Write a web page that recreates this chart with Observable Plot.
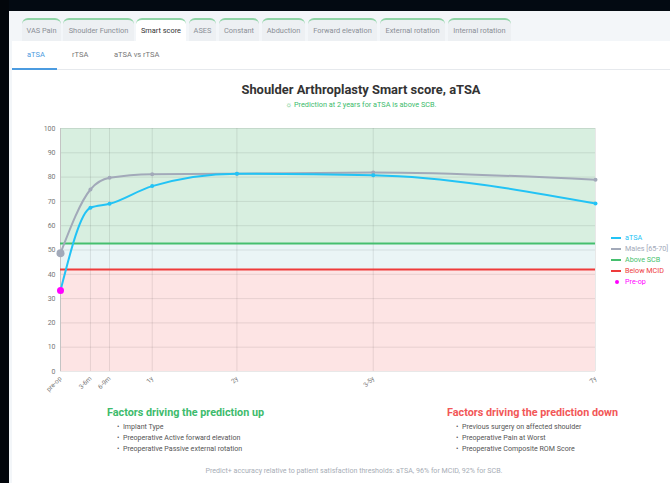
<!DOCTYPE html>
<html><head><meta charset="utf-8">
<script src="https://cdn.jsdelivr.net/npm/d3@7"></script>
<script src="https://cdn.jsdelivr.net/npm/@observablehq/plot@0.6"></script>
<style>
html,body{margin:0;padding:0;width:670px;height:483px;overflow:hidden;background:#fff;font-family:Roboto,"Noto Sans",sans-serif;}
.abs{position:absolute;white-space:nowrap;}
#topband{left:0;top:0;width:670px;height:11px;background:#030a12;}
#leftband{left:0;top:0;width:9px;height:483px;background:#02060b;}
#tabbar{left:9px;top:11px;width:661px;height:30px;background:#f3f6f9;}
#strip{left:9px;top:41px;width:3px;height:442px;background:#f3f6f9;}
.tab{position:absolute;top:18px;height:23px;background:#edf0f3;border-top:2px solid #8fd4a6;border-radius:6px 6px 0 0;box-sizing:border-box;font-size:7.4px;color:#8a8f96;line-height:21px;text-align:center;}
.tab.active{background:#fff;color:#333;}
.sub{position:absolute;top:50px;font-size:7.5px;color:#777;}
#subline{left:12px;top:69px;width:658px;height:1px;background:#e6e9ed;}
#subact{left:12px;top:68px;width:45px;height:2px;background:#4b9be0;}
#title{left:0;width:722px;top:82px;text-align:center;font-weight:bold;font-size:12.9px;color:#333;}
#subtitle{left:0;width:722px;top:100px;text-align:center;font-size:7.3px;color:#3dbb6c;}
#chart{position:absolute;left:0;top:110px;}
.leg{position:absolute;font-size:7.2px;}
.legsym{position:absolute;width:10px;height:2px;}
.fh{position:absolute;font-weight:bold;font-size:10.8px;}
.fl{position:absolute;font-size:7.1px;color:#555;}
#caption{left:0;width:708px;top:466px;text-align:center;font-size:7.1px;color:#a7adb6;}
</style></head>
<body>
<div class="abs" id="topband"></div>
<div class="abs" id="leftband"></div>
<div class="abs" id="tabbar"></div>
<div class="abs" id="strip"></div>
<div id="tabs"></div>
<div id="subs"></div>
<div class="abs" id="subline"></div>
<div class="abs" id="subact"></div>
<div class="abs" id="title"></div>
<div class="abs" id="subtitle"></div>
<div id="chart"></div>
<div id="legend"></div>
<div id="factors"></div>
<div class="abs" id="caption"></div>
<script>
// ---- data ----
const tabNames = ["VAS Pain","Shoulder Function","Smart score","ASES","Constant","Abduction","Forward elevation","External rotation","Internal rotation"];
const subTabNames = ["aTSA","rTSA","aTSA vs rTSA"];
const timeLabels = ["pre-op","3-6m","6-9m","1y","2y","3-5y","7y"];
const timePos = [0, 4.7, 7.7, 14.4, 27.7, 49.1, 84];
const aTSA = [33.3, 67.4, 69.0, 76.3, 81.4, 80.8, 69.1];
const males = [48.7, 74.9, 79.7, 81.2, 81.4, 81.9, 78.9];
const scbValue = 52.7;
const mcidValue = 42;
const yTicks = [0,10,20,30,40,50,60,70,80,90,100];
const legendNames = ["aTSA","Males [65-70]","Above SCB","Below MCID","Pre-op"];
const factorsUp = ["Implant Type","Preoperative Active forward elevation","Preoperative Passive external rotation"];
const factorsDown = ["Previous surgery on affected shoulder","Preoperative Pain at Worst","Preoperative Composite ROM Score"];
const titleText = "Shoulder Arthroplasty Smart score, aTSA";
const subtitleText = "☼ Prediction at 2 years for aTSA is above SCB.";
const captionText = "Predict+ accuracy relative to patient satisfaction thresholds: aTSA, 96% for MCID, 92% for SCB.";

// ---- styles ----
const C = {atsa:"#22c3f5", males:"#a2a9b9", scb:"#45bf6e", mcid:"#ee3b3b", preop:"#ff00ff"};

// tabs
const tabX = [[22,61],[63,134],[136,186],[189,216],[219,259],[262,305],[308,377],[380,445],[448,511]];
document.getElementById("tabs").innerHTML = tabNames.map((t,i)=>
  `<div class="tab${i===2?' active':''}" style="left:${tabX[i][0]}px;width:${tabX[i][1]-tabX[i][0]}px">${t}</div>`).join("");
const subX = [27,72,114];
document.getElementById("subs").innerHTML = subTabNames.map((t,i)=>
  `<div class="sub" style="left:${subX[i]}px;${i===0?'color:#4b9be0':''}">${t}</div>`).join("");
document.getElementById("title").textContent = titleText;
document.getElementById("subtitle").textContent = subtitleText;
document.getElementById("caption").textContent = captionText;

// chart
const series = (vals, name) => timePos.map((x,i)=>({x, y: vals[i], name}));
const aData = series(aTSA, "aTSA");
const mData = series(males, "Males");
const x0 = timePos[0], x1 = timePos[timePos.length-1];
const bands = [
  {y1: scbValue, y2: 100, fill: "#d8efe0"},
  {y1: mcidValue, y2: scbValue, fill: "#eaf5f6"},
  {y1: 0, y2: mcidValue, fill: "#fde4e4"}
];
const chart = Plot.plot({
  width: 670, height: 300,
  marginLeft: 60, marginRight: 75, marginTop: 18, marginBottom: 39,
  style: {background: "transparent", fontFamily: "Roboto, sans-serif"},
  x: {type: "linear", domain: [x0, x1], label: null},
  y: {domain: [0, 100], label: null},
  marks: [
    Plot.rect(bands, {x1: () => x0, x2: () => x1, y1: "y1", y2: "y2", fill: "fill"}),
    Plot.gridY(yTicks, {stroke: "#000", strokeOpacity: 0.09}),
    Plot.gridX(timePos, {stroke: "#000", strokeOpacity: 0.09}),
    Plot.ruleX([x0], {stroke: "#c4c4c4"}),
    Plot.axisY(yTicks, {tickSize: 0, tickPadding: 5, fontSize: 7, fill: "#777", label: null}),
    Plot.axisX(timePos, {tickSize: 0, tickPadding: 6, fontSize: 6.5, fill: "#777", tickRotate: -45, label: null,
      tickFormat: d => timeLabels[timePos.indexOf(d)]}),
    Plot.ruleY([scbValue], {x1: x0, x2: x1, stroke: C.scb, strokeWidth: 2}),
    Plot.ruleY([mcidValue], {x1: x0, x2: x1, stroke: C.mcid, strokeWidth: 2}),
    Plot.line(mData, {x: "x", y: "y", stroke: C.males, strokeWidth: 2, curve: "monotone-x"}),
    Plot.dot(mData.slice(1), {x: "x", y: "y", r: 2, fill: C.males}),
    Plot.dot(mData.slice(0,1), {x: "x", y: "y", r: 4, fill: C.males}),
    Plot.line(aData, {x: "x", y: "y", stroke: C.atsa, strokeWidth: 2, curve: "monotone-x"}),
    Plot.dot(aData.slice(1), {x: "x", y: "y", r: 2, fill: C.atsa}),
    Plot.dot(aData.slice(0,1), {x: "x", y: "y", r: 3.5, fill: C.preop})
  ]
});
document.getElementById("chart").appendChild(chart);

// legend
const legColors = [C.atsa, C.males, C.scb, C.mcid, C.preop];
document.getElementById("legend").innerHTML = legendNames.map((n,i)=>{
  const top = 233 + i*11;
  const sym = i===4
    ? `<div class="legsym" style="left:615px;top:${top+3}px;width:4px;height:4px;border-radius:2px;background:${legColors[i]}"></div>`
    : `<div class="legsym" style="left:611px;top:${top+4}px;background:${legColors[i]}"></div>`;
  return sym + `<div class="leg" style="left:625px;top:${top}px;color:${legColors[i]}">${n}</div>`;
}).join("");

// factors
let fh = `<div class="fh" style="left:107px;top:406px;color:#3dbb6c">Factors driving the prediction up</div>`;
fh += `<div class="fh" style="left:447px;top:406px;color:#f25757">Factors driving the prediction down</div>`;
factorsUp.forEach((t,i)=>{ fh += `<div class="fl" style="left:117px;top:${422+i*11}px">•&nbsp;&nbsp;${t}</div>`; });
factorsDown.forEach((t,i)=>{ fh += `<div class="fl" style="left:456px;top:${422+i*11}px">•&nbsp;&nbsp;${t}</div>`; });
document.getElementById("factors").innerHTML = fh;
</script>
</body></html>
